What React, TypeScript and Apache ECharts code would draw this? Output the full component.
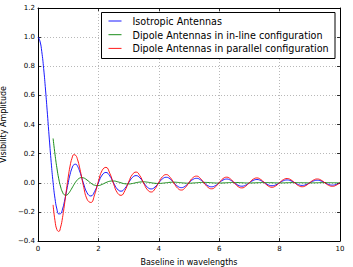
import React, { useEffect, useRef } from "react";
import * as echarts from "echarts";

const baseline = [
  0, 0.0625, 0.125, 0.1875, 0.25, 0.3125, 0.375, 0.4375, 0.5, 0.5625, 0.625, 0.6875, 0.75, 0.8125, 0.875, 0.9375,
  1, 1.0625, 1.125, 1.1875, 1.25, 1.3125, 1.375, 1.4375, 1.5,
  1.625, 1.75, 1.875, 2, 2.125, 2.25, 2.375, 2.5, 2.625, 2.75, 2.875, 3, 3.125, 3.25, 3.375, 3.5,
  3.625, 3.75, 3.875, 4, 4.125, 4.25, 4.375, 4.5, 4.625, 4.75, 4.875, 5, 5.125, 5.25, 5.375, 5.5,
  5.625, 5.75, 5.875, 6, 6.125, 6.25, 6.375, 6.5, 6.625, 6.75, 6.875, 7, 7.125, 7.25, 7.375, 7.5,
  7.625, 7.75, 7.875, 8, 8.125, 8.25, 8.375, 8.5, 8.625, 8.75, 8.875, 9, 9.125, 9.25, 9.375, 9.5,
  9.625, 9.75, 9.875, 10,
];

const isotropic = [
  1, 0.9745, 0.9003, 0.7842, 0.6366, 0.4705, 0.3001, 0.1392, 0, -0.1083, -0.1801, -0.2139, -0.2122, -0.181, -0.1286, -0.065,
  0, 0.0573, 0.1, 0.1238, 0.1273, 0.112, 0.0819, 0.0424, 0,
  -0.0693, -0.0909, -0.06, 0, 0.053, 0.0707, 0.0474, 0, -0.0429, -0.0579, -0.0391, 0, 0.036, 0.049, 0.0334, 0,
  -0.0311, -0.0424, -0.029, 0, 0.0273, 0.0374, 0.0257, 0, -0.0243, -0.0335, -0.0231, 0, 0.022, 0.0303, 0.0209, 0,
  -0.02, -0.0277, -0.0192, 0, 0.0184, 0.0255, 0.0177, 0, -0.017, -0.0236, -0.0164, 0, 0.0158, 0.022, 0.0153, 0,
  -0.0148, -0.0205, -0.0143, 0, 0.0139, 0.0193, 0.0134, 0, -0.0131, -0.0182, -0.0127, 0, 0.0123, 0.0172, 0.012, 0,
  -0.0117, -0.0163, -0.0114, 0,
];

const dipoleInline = [
  null, null, null, null, null, null, null, null, 0.304, 0.1959, 0.1025, 0.0271, -0.0287, -0.0649, -0.083, -0.0855,
  -0.076, -0.0583, -0.0365, -0.014, 0.0062, 0.0218, 0.0317, 0.0355, 0.0338,
  0.0184, -0.0023, -0.0166, -0.019, -0.011, 0.0011, 0.0102, 0.0122, 0.0073, -0.0006, -0.0069, -0.0084, -0.0052, 0.0004, 0.0049, 0.0062,
  0.0039, -0.0002, -0.0037, -0.0048, -0.003, 0.0002, 0.0029, 0.0038, 0.0024, -0.0001, -0.0023, -0.003, -0.002, 0.0001, 0.0019, 0.0025,
  0.0017, -0.0001, -0.0016, -0.0021, -0.0014, 0.0001, 0.0014, 0.0018, 0.0012, 0, -0.0012, -0.0016, -0.001, 0, 0.001, 0.0014,
  0.0009, 0, -0.0009, -0.0012, -0.0008, 0, 0.0008, 0.0011, 0.0007, 0, -0.0007, -0.0009, -0.0006, 0, 0.0006, 0.0008,
  0.0006, 0, -0.0006, -0.0008,
];

const dipoleParallel = [
  null, null, null, null, null, null, null, null, -0.152, -0.2604, -0.3214, -0.3344, -0.304, -0.239, -0.1515, -0.0547,
  0.038, 0.1152, 0.1683, 0.1927, 0.1879, 0.1571, 0.1069, 0.0458, -0.0169,
  -0.1131, -0.1353, -0.0817, 0.0095, 0.0849, 0.1056, 0.066, -0.0061, -0.068, -0.0865, -0.0553, 0.0042, 0.0566, 0.0733, 0.0476, -0.0031,
  -0.0485, -0.0636, -0.0417, 0.0024, 0.0424, 0.0561, 0.0371, -0.0019, -0.0377, -0.0502, -0.0335, 0.0015, 0.0339, 0.0454, 0.0305, -0.0013,
  -0.0308, -0.0415, -0.0279, 0.0011, 0.0283, 0.0382, 0.0258, -0.0009, -0.0261, -0.0354, -0.024, 0.0008, 0.0242, 0.0329, 0.0224, -0.0007,
  -0.0226, -0.0308, -0.021, 0.0006, 0.0212, 0.0289, 0.0198, -0.0005, -0.0199, -0.0273, -0.0187, 0.0005, 0.0188, 0.0258, 0.0177, -0.0004,
  -0.0178, -0.0245, -0.0168, 0.0004,
];

const seriesNames = [
  "Isotropic Antennas",
  "Dipole Antennas in in-line configuration",
  "Dipole Antennas in parallel configuration",
];
const seriesColors = ["#0000ff", "#008000", "#ff0000"];
const xLabel = "Baseline in wavelengths";
const yLabel = "Visibility Amplitude";

const FONT = "DejaVu Sans";

function pairs(vals: (number | null)[]) {
  const out: [number, number][] = [];
  baseline.forEach((b, i) => {
    const v = vals[i];
    if (v !== null && v !== undefined) out.push([b, v]);
  });
  return out;
}

export default function App() {
  const ref = useRef<HTMLDivElement>(null);
  useEffect(() => {
    if (!ref.current) return;
    const chart = echarts.init(ref.current, undefined, { renderer: "svg" });
    const tick = { show: true, inside: true, length: 3, lineStyle: { color: "#000", width: 0.8 } };
    const spine = { show: true, onZero: false, lineStyle: { color: "#000", width: 1 } };
    const grid = { show: true, type: [1, 2], color: "#888", width: 0.6 };
    const yFmt = (v: number) => (v < -1e-9 ? "\u2212" : "") + Math.abs(v).toFixed(1);
    const allData = [isotropic, dipoleInline, dipoleParallel];
    const legendRows = [21.3, 35, 48.7];
    const graphics: any[] = [
      {
        type: "rect",
        z: 100,
        shape: { x: 101.5, y: 12.5, width: 233.5, height: 46 },
        style: { fill: "#fff", stroke: "#000", lineWidth: 1 },
      },
    ];
    seriesNames.forEach((n, i) => {
      graphics.push({
        type: "line",
        z: 101,
        shape: { x1: 108.5, y1: legendRows[i] - 0.3, x2: 121.5, y2: legendRows[i] - 0.3 },
        style: { stroke: seriesColors[i], lineWidth: 0.9 },
      });
      graphics.push({
        type: "text",
        z: 101,
        x: 132.5,
        y: legendRows[i],
        style: {
          text: n,
          fill: "#000",
          font: `9.6px "${FONT}"`,
          verticalAlign: "middle",
          align: "left",
        },
      });
    });
    chart.setOption({
      animation: false,
      backgroundColor: "#fff",
      textStyle: { fontFamily: FONT },
      grid: { left: 38, top: 8, right: 13, bottom: 26, containLabel: false, outerBoundsMode: "none" },
      xAxis: [
        {
          type: "value",
          min: 0,
          max: 10,
          interval: 2,
          position: "bottom",
          axisLine: spine,
          axisTick: tick,
          splitLine: { show: true, lineStyle: grid },
          axisLabel: { color: "#000", fontSize: 7, fontFamily: FONT, margin: 4 },
          name: xLabel,
          nameLocation: "middle",
          nameGap: 17,
          nameTextStyle: { color: "#000", fontSize: 8, fontFamily: FONT },
        },
        {
          type: "value",
          min: 0,
          max: 10,
          interval: 2,
          position: "top",
          axisLine: spine,
          axisTick: tick,
          splitLine: { show: false },
          axisLabel: { show: false },
        },
      ],
      yAxis: [
        {
          type: "value",
          min: -0.4,
          max: 1.2,
          interval: 0.2,
          position: "left",
          axisLine: spine,
          axisTick: tick,
          splitLine: { show: true, lineStyle: grid },
          axisLabel: { color: "#000", fontSize: 7, fontFamily: FONT, margin: 3, formatter: yFmt },
          name: yLabel,
          nameLocation: "middle",
          nameGap: 27,
          nameTextStyle: { color: "#000", fontSize: 8, fontFamily: FONT },
        },
        {
          type: "value",
          min: -0.4,
          max: 1.2,
          interval: 0.2,
          position: "right",
          axisLine: spine,
          axisTick: tick,
          splitLine: { show: false },
          axisLabel: { show: false },
        },
      ],
      series: seriesNames.map((n, i) => ({
        name: n,
        type: "line",
        xAxisIndex: 0,
        yAxisIndex: 0,
        data: pairs(allData[i]),
        smooth: 0.5,
        showSymbol: false,
        symbol: "none",
        lineStyle: { color: seriesColors[i], width: 0.9 },
        z: 2 + i,
      })),
      graphic: graphics,
    });
    return () => chart.dispose();
  }, []);
  return (
    <div
      ref={ref}
      style={{ position: "fixed", left: 0, top: 0, width: 353, height: 267, background: "#fff" }}
    />
  );
}
